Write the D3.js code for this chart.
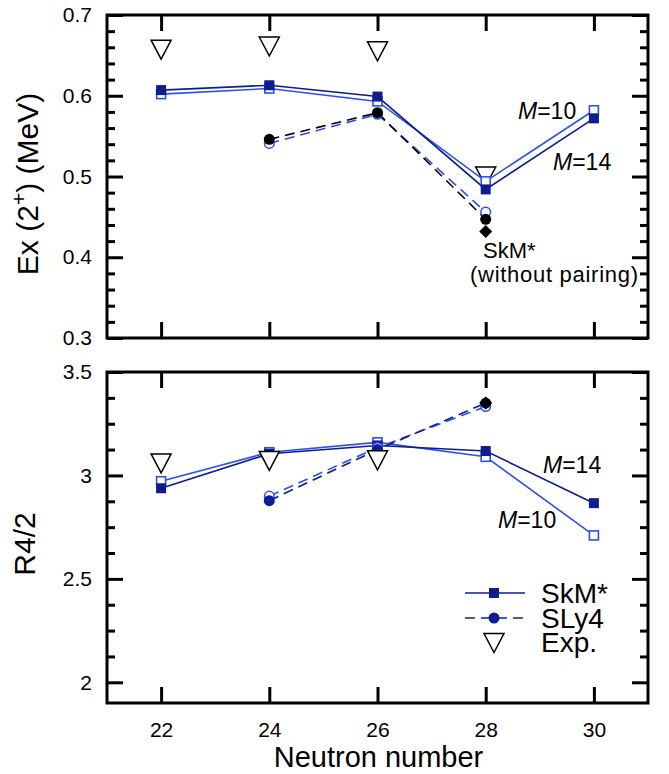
<!DOCTYPE html>
<html><head><meta charset="utf-8">
<script src="https://cdn.jsdelivr.net/npm/d3@7"></script>
<style>
html,body{margin:0;padding:0;background:#fff;}
svg{display:block;font-family:"Liberation Sans",Arial,Helvetica,sans-serif;}
</style></head>
<body>
<svg id="chart" width="669" height="774"></svg>
<script>
// ---------- data ----------
const neutrons = [22, 24, 26, 28, 30];
const slyN = [24, 26, 28];
const expNTop = [22, 24, 26, 28];
const expNBot = [22, 24, 26];

// Top panel: Ex(2+) (MeV)
const exSkM14 = [0.607, 0.613, 0.599, 0.484, 0.572];
const exSkM10 = [0.602, 0.609, 0.593, 0.494, 0.582];
const exSLy14 = [0.546, 0.579, 0.447];
const exSLy10 = [0.541, 0.577, 0.456];
const exNoPair = [{n: 28, v: 0.432}];
const exExp = [0.657, 0.661, 0.655, 0.500];

// Bottom panel: R4/2
const rSkM14 = [2.938, 3.105, 3.145, 3.118, 2.866];
const rSkM10 = [2.972, 3.112, 3.160, 3.090, 2.710];
const rSLy14 = [2.878, 3.125, 3.350];
const rSLy10 = [2.900, 3.135, 3.333];
const rNoPair = [{n: 28, v: 3.350}];
const rExp = [3.058, 3.070, 3.073];

const xTicks = [22, 24, 26, 28, 30];
const yTopTicks = [0.3, 0.4, 0.5, 0.6, 0.7];
const yTopLabels = ["0.3", "0.4", "0.5", "0.6", "0.7"];
const yBotTicks = [2, 2.5, 3, 3.5];
const yBotLabels = ["2", "2.5", "3", "3.5"];

// ---------- styles ----------
const NAVY = "#0f1c8e";
const BLUE = "#2d4ff2";
const FONT = '"Liberation Sans",Arial,Helvetica,sans-serif';

const svg = d3.select("#chart");
const L = 107, R = 648;
const x = d3.scaleLinear().domain([21, 31]).range([L, R]);
const yTop = d3.scaleLinear().domain([0.3, 0.7]).range([338, 15]);
const yBot = d3.scaleLinear().domain([1.9, 3.5]).range([703, 372]);

function frame(y) {
  const [y0, y1] = y.range();
  svg.append("rect").attr("x", L).attr("y", y1).attr("width", R - L).attr("height", y0 - y1)
    .attr("fill", "none").attr("stroke", "#000").attr("stroke-width", 3);
}

function styleAxis(g) {
  g.select(".domain").remove();
  g.selectAll(".tick line").attr("stroke", "#000").attr("stroke-width", 3);
  g.selectAll("text").attr("font-family", FONT).attr("font-size", 21).attr("fill", "#000");
}

function axes(y, major, majorLabels, minorStep, showX) {
  const [y0, y1] = y.range();
  const d = y.domain();
  const minor = d3.range(Math.ceil(d[0] / minorStep - 1e-6) * minorStep, d[1] + 1e-9, minorStep)
    .filter(v => !major.some(m => Math.abs(m - v) < 1e-6));
  svg.append("g").attr("transform", `translate(${L},0)`)
    .call(d3.axisLeft(y).tickValues(major).tickSize(-16).tickPadding(15)
      .tickFormat((v, i) => majorLabels[i])).call(styleAxis);
  svg.append("g").attr("transform", `translate(${L},0)`)
    .call(d3.axisLeft(y).tickValues(minor).tickSize(-8).tickFormat("")).call(styleAxis);
  svg.append("g").attr("transform", `translate(${R},0)`)
    .call(d3.axisRight(y).tickValues(major).tickSize(-16).tickFormat("")).call(styleAxis);
  svg.append("g").attr("transform", `translate(${R},0)`)
    .call(d3.axisRight(y).tickValues(minor).tickSize(-8).tickFormat("")).call(styleAxis);
  svg.append("g").attr("transform", `translate(0,${y1})`)
    .call(d3.axisTop(x).tickValues(xTicks).tickSize(-16).tickFormat("")).call(styleAxis);
  svg.append("g").attr("transform", `translate(0,${y0})`)
    .call(d3.axisBottom(x).tickValues(xTicks).tickSize(-16).tickPadding(19)
      .tickFormat(showX ? d3.format("d") : "")).call(styleAxis);
}

function line(g, ns, vs, y, color, dashed) {
  g.append("path").datum(ns.map((n, i) => [n, vs[i]]))
    .attr("d", d3.line().x(d => x(d[0])).y(d => y(d[1])))
    .attr("fill", "none").attr("stroke", color).attr("stroke-width", 1.6)
    .attr("stroke-dasharray", dashed ? "10,6" : null);
}
function squares(g, ns, vs, y, color, open) {
  const s = open ? 9 : 10;
  g.selectAll(null).data(ns.map((n, i) => [n, vs[i]])).enter().append("rect")
    .attr("x", d => x(d[0]) - s / 2).attr("y", d => y(d[1]) - s / 2)
    .attr("width", s).attr("height", s)
    .attr("fill", open ? "#fff" : color).attr("stroke", color).attr("stroke-width", open ? 1.6 : 0);
}
function circles(g, ns, vs, y, color, open) {
  g.selectAll(null).data(ns.map((n, i) => [n, vs[i]])).enter().append("circle")
    .attr("cx", d => x(d[0])).attr("cy", d => y(d[1])).attr("r", open ? 4.8 : 5.5)
    .attr("fill", open ? "#fff" : color).attr("stroke", color).attr("stroke-width", open ? 1.5 : 0);
}
const triPath = "M-10,-9.5L10,-9.5L0,9.5Z";
function triangles(g, ns, vs, y) {
  g.selectAll(null).data(ns.map((n, i) => [n, vs[i]])).enter().append("path")
    .attr("d", triPath).attr("transform", d => `translate(${x(d[0])},${y(d[1])})`)
    .attr("fill", "#fff").attr("stroke", "#000").attr("stroke-width", 1.5);
}
function diamonds(g, data, y) {
  g.selectAll(null).data(data).enter().append("path")
    .attr("d", "M0,-6.5L6.5,0L0,6.5L-6.5,0Z")
    .attr("transform", d => `translate(${x(d.n)},${y(d.v)})`).attr("fill", "#000");
}
function label(tx, ty, mainTxt, size) {
  const t = svg.append("text").attr("x", tx).attr("y", ty).attr("font-size", size)
    .attr("font-family", FONT);
  t.append("tspan").attr("font-style", "italic").text("M");
  t.append("tspan").text(mainTxt);
}

// ---------- top panel ----------
const gT = svg.append("g");
triangles(gT, expNTop, exExp, yTop);
line(gT, neutrons, exSkM10, yTop, BLUE, false);
line(gT, neutrons, exSkM14, yTop, NAVY, false);
line(gT, slyN, exSLy10, yTop, BLUE, true);
line(gT, slyN, exSLy14, yTop, "#000", true);
squares(gT, neutrons, exSkM10, yTop, BLUE, true);
squares(gT, neutrons, exSkM14, yTop, NAVY, false);
circles(gT, slyN, exSLy10, yTop, BLUE, true);
circles(gT, slyN, exSLy14, yTop, "#000", false);
diamonds(gT, exNoPair, yTop);
frame(yTop);
axes(yTop, yTopTicks, yTopLabels, 0.02, false);

label(518, 119, "=10", 23);
label(553, 170, "=14", 23);
svg.append("text").attr("x", 483).attr("y", 258).attr("font-size", 22).attr("font-family", FONT).text("SkM*");
svg.append("text").attr("x", 470).attr("y", 282).attr("font-size", 22).attr("font-family", FONT)
  .attr("textLength", 168).text("(without pairing)");

// ---------- bottom panel ----------
const gB = svg.append("g");
line(gB, neutrons, rSkM10, yBot, BLUE, false);
line(gB, neutrons, rSkM14, yBot, NAVY, false);
line(gB, slyN, rSLy10, yBot, BLUE, true);
line(gB, slyN, rSLy14, yBot, NAVY, true);
squares(gB, neutrons, rSkM10, yBot, BLUE, true);
squares(gB, neutrons, rSkM14, yBot, NAVY, false);
circles(gB, slyN, rSLy10, yBot, BLUE, true);
circles(gB, slyN, rSLy14, yBot, NAVY, false);
diamonds(gB, rNoPair, yBot);
triangles(gB, expNBot, rExp, yBot);
frame(yBot);
axes(yBot, yBotTicks, yBotLabels, 0.125, true);

label(543, 473, "=14", 23);
label(498, 528, "=10", 23);

// legend
const lg = svg.append("g");
lg.append("line").attr("x1", 465).attr("x2", 525).attr("y1", 593).attr("y2", 593)
  .attr("stroke", NAVY).attr("stroke-width", 1.6);
lg.append("rect").attr("x", 489).attr("y", 588).attr("width", 10).attr("height", 10).attr("fill", NAVY);
lg.append("line").attr("x1", 465).attr("x2", 525).attr("y1", 618).attr("y2", 618)
  .attr("stroke", NAVY).attr("stroke-width", 1.6).attr("stroke-dasharray", "10,6");
lg.append("circle").attr("cx", 494).attr("cy", 618).attr("r", 5.5).attr("fill", NAVY);
lg.append("path").attr("d", triPath).attr("transform", "translate(494,643)")
  .attr("fill", "#fff").attr("stroke", "#000").attr("stroke-width", 1.5);
const legTxt = ["SkM*", "SLy4", "Exp."];
const legY = [603, 628, 652];
legTxt.forEach((t, i) => lg.append("text").attr("x", 541).attr("y", legY[i])
  .attr("font-size", 28).attr("font-family", FONT).text(t));

// axis titles
svg.append("text").attr("x", (L + R) / 2 + 1).attr("y", 767).attr("text-anchor", "middle")
  .attr("font-size", 29).attr("font-family", FONT).text("Neutron number");
const ey = svg.append("text").attr("transform", "translate(38,184) rotate(-90)")
  .attr("text-anchor", "middle").attr("font-size", 30).attr("font-family", FONT);
ey.append("tspan").text("Ex (2");
ey.append("tspan").attr("dy", -12).attr("font-size", 21).text("+");
ey.append("tspan").attr("dy", 12).text(") (MeV)");
svg.append("text").attr("transform", "translate(35,544) rotate(-90)")
  .attr("text-anchor", "middle").attr("font-size", 30).attr("font-family", FONT).text("R4/2");
</script>
</body></html>
